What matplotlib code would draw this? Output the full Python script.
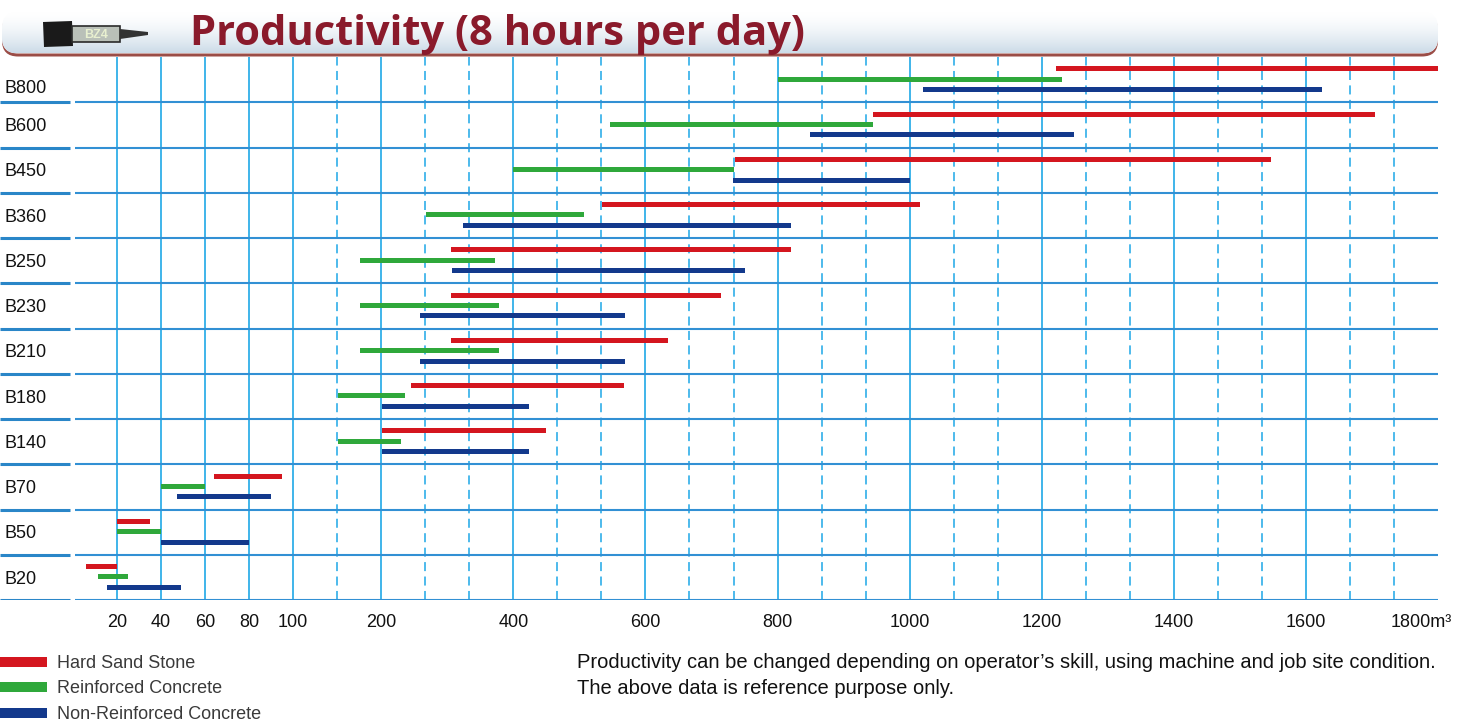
import numpy as np
import matplotlib
matplotlib.use("Agg")
import matplotlib.pyplot as plt
from matplotlib import font_manager
from matplotlib.patches import FancyBboxPatch, Rectangle, Polygon
from matplotlib.lines import Line2D
from matplotlib.transforms import ScaledTranslation

## row labels, bottom row first
models = ['B20', 'B50', 'B70', 'B140', 'B180', 'B210', 'B230', 'B250', 'B360', 'B450', 'B600', 'B800']

## m3 per 8 hour day, start / end of each range
hard_lo = [6, 20, 64, 201, 245, 305, 305, 305, 534, 735, 945, 1221]
hard_hi = [20, 35, 95, 449, 568, 634, 715, 821, 1016, 1547, 1704, 1800]
reinf_lo = [11.5, 20, 40, 151, 151, 176, 176, 176, 268, 400, 547, 800]
reinf_hi = [25, 40, 60, 230, 236, 379, 379, 372, 507, 734, 945, 1230]
plain_lo = [15.5, 40, 47, 201, 201, 259, 259, 307, 323, 733, 849, 1020]
plain_hi = [49, 80, 90, 423, 423, 569, 569, 750, 820, 1001, 1249, 1625]

series = ['Hard Sand Stone', 'Reinforced Concrete', 'Non-Reinforced Concrete']
colors = ['#d4161f', '#2fa83b', '#13398c']

tick_vals = [20, 40, 60, 80, 100, 200, 400, 600, 800, 1000, 1200, 1400, 1600, 1800]
tick_text = ['20', '40', '60', '80', '100', '200', '400', '600', '800', '1000',
             '1200', '1400', '1600', '1800m\u00b3']

## broken axis: 20 per step up to 100, 50 per step to 200, then 200/3 per step
SCALE_X = [-100, 0, 100, 200, 1800, 2200]
SCALE_U = [-5, 0, 5, 7, 31, 37]

def forward(x):
    return np.interp(x, SCALE_X, SCALE_U)

def inverse(u):
    return np.interp(u, SCALE_U, SCALE_X)

names = {f.name for f in font_manager.fontManager.ttflist}
NARROW = 'Liberation Sans Narrow' if 'Liberation Sans Narrow' in names else 'Liberation Sans'
REG = 'Liberation Sans'

W, H = 1461, 724
fig = plt.figure(figsize=(W / 100, H / 100), dpi=100)
fig.patch.set_facecolor('white')

AX_L, AX_R, AX_T, AX_B = 0, 1438, 57, 600
ax = fig.add_axes([AX_L / W, 1 - AX_B / H, (AX_R - AX_L) / W, (AX_B - AX_T) / H])
ax.set_xscale('function', functions=(forward, inverse))
ax.set_xlim(inverse(-73 / 44), 1800)
ax.set_ylim(-0.5, len(models) - 0.5)
for s in ax.spines.values():
    s.set_visible(False)
ax.set_yticks([])

## vertical grid: solid at labelled values, dashed at the steps between
major_u = forward(np.array(tick_vals))
minor_u = [u for u in range(1, 31) if u not in major_u]
ax.vlines(tick_vals[:-1], 0, 1, transform=ax.get_xaxis_transform(),
          color='#3fb4ea', lw=1.4, zorder=1)
ax.vlines(inverse(np.array(minor_u)), 0, 1, transform=ax.get_xaxis_transform(),
          color='#3fb4ea', lw=1.3, linestyles=(0, (5, 3)), zorder=1)

## row separators
seps = np.arange(len(models)) - 0.5
ax.hlines(seps, 75 / 1438, 1, transform=ax.get_yaxis_transform(),
          color='#3290d4', lw=1.5, zorder=2)
ax.hlines(seps, 0, 70 / 1438, transform=ax.get_yaxis_transform(),
          color='#2a86c8', lw=2.2, zorder=2)

y = np.arange(len(models))
ranges = [(hard_lo, hard_hi), (reinf_lo, reinf_hi), (plain_lo, plain_hi)]
offsets = [0.24, 0.01, -0.22]
for (lo, hi), off, c in zip(ranges, offsets, colors):
    lo = np.array(lo)
    hi = np.array(hi)
    ax.barh(y + off, hi - lo, left=lo, height=0.11, color=c, zorder=3)

for i, m in enumerate(models):
    # top label sits low in its row, under the banner
    dy = -0.2 if i == len(models) - 1 else -0.04
    ax.text(5 / 1438, i + dy, m, transform=ax.get_yaxis_transform(), ha='left', va='center',
            fontsize=13, family=REG, color='#111111')

ax.set_xticks(tick_vals, tick_text)
ax.minorticks_off()
ax.tick_params(axis='x', length=0, pad=10, labelsize=13, labelcolor='#111111')
for lab in ax.get_xticklabels():
    lab.set_family(NARROW)
last = ax.get_xticklabels()[-1]
last.set_transform(last.get_transform() + ScaledTranslation(-0.17, 0, fig.dpi_scale_trans))

## header banner
hax = fig.add_axes([0, 1 - 60 / H, 1442 / W, 52 / H])
hax.set_xlim(0, 1442)
hax.set_ylim(60, 8)
hax.axis('off')
shadow = FancyBboxPatch((2, 14), 1436, 42.5, boxstyle='round,pad=0,rounding_size=16',
                        fc='#9b4d47', ec='none')
hax.add_patch(shadow)
box = FancyBboxPatch((2, 12), 1436, 41.5, boxstyle='round,pad=0,rounding_size=16',
                     fc='white', ec='none')
hax.add_patch(box)
t = np.linspace(0, 1, 60)[:, None, None] ** 1.6
top = np.array([1.0, 1.0, 1.0])
bot = np.array([0.80, 0.86, 0.91])
grad = top * (1 - t) + bot * t
img = hax.imshow(grad, extent=(2, 1438, 53.5, 12), aspect='auto', zorder=2)
img.set_clip_path(box)

## small breaker picture
hax.add_patch(Polygon([[43, 22], [72, 21], [73, 46], [44, 47]], fc='#1a1a1a', ec='none', zorder=3))
hax.add_patch(Rectangle((72, 26), 48, 16, fc='#b9c0b8', ec='#2a2a2a', lw=1.2, zorder=3))
hax.text(96, 34.5, 'BZ4', ha='center', va='center', fontsize=9, fontweight='bold',
         color='#e8f0d0', family=REG, zorder=4)
hax.add_patch(Polygon([[120, 29], [148, 32], [148, 35], [120, 39]], fc='#333333', ec='none', zorder=3))

fig.text(190 / W, 1 - 45 / H, 'Productivity (8 hours per day)', ha='left', va='baseline',
         fontsize=30, fontweight='bold', color='#8a1a2b', family='Open Sans')

## legend
handles = [Line2D([], [], color=c, lw=7.2, solid_capstyle='butt') for c in colors]
leg = fig.legend(handles, series, loc='upper left', bbox_to_anchor=(0, 1 - 655 / H),
                 frameon=False, handlelength=2.6, handletextpad=0.55,
                 labelspacing=0.47, borderpad=0, borderaxespad=0,
                 prop={'family': REG, 'size': 13})
for txt in leg.get_texts():
    txt.set_color('#3a3a3a')

fig.text(577 / W, 1 - 663 / H,
         'Productivity can be changed depending on operator\u2019s skill, using machine and job site condition.',
         ha='left', va='center', fontsize=14.5, family=NARROW, color='#111111')
fig.text(577 / W, 1 - 689 / H, 'The above data is reference purpose only.',
         ha='left', va='center', fontsize=14.5, family=NARROW, color='#111111')

fig.savefig('out.png', dpi=100, facecolor='white')
